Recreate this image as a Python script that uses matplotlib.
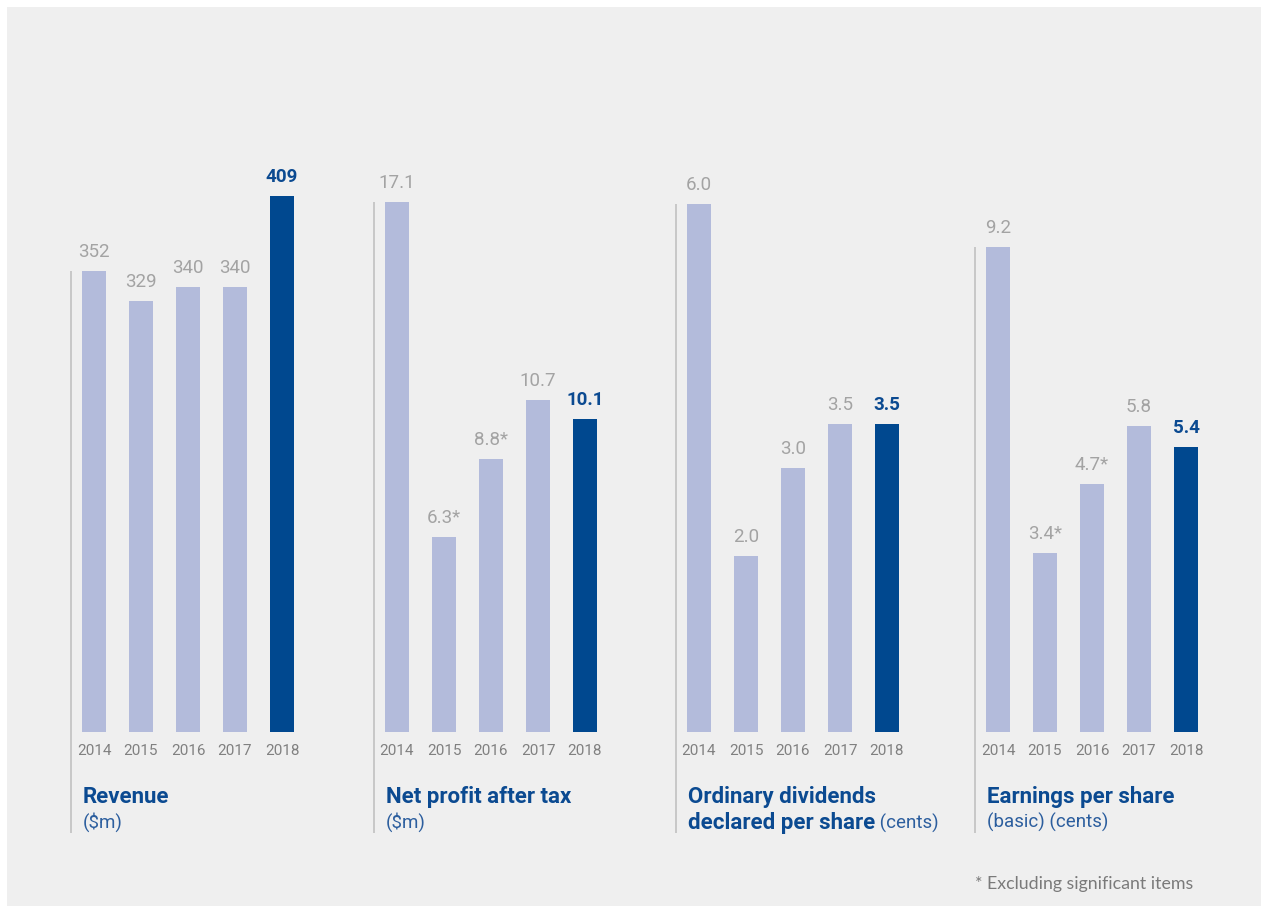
import matplotlib
matplotlib.use("Agg")
import matplotlib.pyplot as plt
from matplotlib.patches import Rectangle

W, H = 1261, 909

years = ["2014", "2015", "2016", "2017", "2018"]

revenue = [352, 329, 340, 340, 409]
revenue_labels = ["352", "329", "340", "340", "409"]

net_profit = [17.1, 6.3, 8.8, 10.7, 10.1]
net_profit_labels = ["17.1", "6.3*", "8.8*", "10.7", "10.1"]

dividends = [6.0, 2.0, 3.0, 3.5, 3.5]
dividends_labels = ["6.0", "2.0", "3.0", "3.5", "3.5"]

eps = [9.2, 3.4, 4.7, 5.8, 5.4]
eps_labels = ["9.2", "3.4*", "4.7*", "5.8", "5.4"]

panels = [
    (revenue, revenue_labels, ["Revenue"], "($m)", 482.4, 94),
    (net_profit, net_profit_labels, ["Net profit after tax"], "($m)", 20.39, 397),
    (dividends, dividends_labels, ["Ordinary dividends", "declared per share"], " (cents)", 7.18, 699),
    (eps, eps_labels, ["Earnings per share"], "(basic) (cents)", 11.98, 998),
]

LIGHT = "#b3bbdb"
DARK = "#00488f"
BLUE_TXT = "#0b4a91"
SUB_TXT = "#2c5e9e"
GREY_VAL = "#a3a3a3"
GREY_YR = "#808080"
LINE = "#c4c4c4"
BG = "#efefef"

FONT = "Roboto"


def fx(x):
    return x / W


def fy(y):
    return 1 - y / H


fig = plt.figure(figsize=(W / 100, H / 100), dpi=100, facecolor="white")
fig.patches.append(Rectangle((fx(7), fy(906)), 1, (906 - 7) / H,
                             transform=fig.transFigure, facecolor=BG,
                             edgecolor="none", zorder=-10))

base_y = 732
plot_h = 632
step = 47
renderer = fig.canvas.get_renderer()

for values, labels, title_lines, subtitle, ymax, c0 in panels:
    ax = fig.add_axes([fx(c0 - step / 2), fy(base_y), 5 * step / W, plot_h / H])
    ax.set_xlim(-0.5, 4.5)
    ax.set_ylim(0, ymax)
    ax.axis("off")
    ax.patch.set_alpha(0)

    xs = list(range(len(values)))
    colors = [LIGHT] * 4 + [DARK]
    ax.bar(xs, values, width=24 / step, color=colors)

    for i, (v, lab) in enumerate(zip(values, labels)):
        last = i == len(values) - 1
        ax.annotate(lab, (i, v), xytext=(0, 10), textcoords="offset points",
                    ha="center", va="baseline", fontsize=13.5, family=FONT,
                    color=BLUE_TXT if last else GREY_VAL,
                    fontweight="bold" if last else "normal")
        ax.annotate(years[i], (i, 0), xytext=(0, -16.5), textcoords="offset points",
                    ha="center", va="baseline", fontsize=11, family=FONT,
                    color=GREY_YR)

    # thin rule on the left of each panel
    y_bottom = -(833 - base_y) / plot_h * ymax
    ax.plot([-0.5, -0.5], [y_bottom, values[0]], color=LINE, lw=1.3,
            clip_on=False, solid_capstyle="butt")

    tx = fx(c0 - 11)
    t = None
    for k, line in enumerate(title_lines):
        t = fig.text(tx, fy(803 + 26 * k), line, fontsize=16, fontweight="bold",
                     family=FONT, color=BLUE_TXT, va="baseline")
    if len(title_lines) > 1:
        bb = t.get_window_extent(renderer=renderer)
        fig.text(bb.x1 / W, fy(829), subtitle, fontsize=13.5, family=FONT,
                 color=SUB_TXT, va="baseline")
    else:
        fig.text(tx, fy(828), subtitle, fontsize=13.5, family=FONT,
                 color=SUB_TXT, va="baseline")

fig.text(fx(1193), fy(889), "* Excluding significant items", fontsize=12.8,
         family="Lato", color="#7a7a7a", ha="right", va="baseline")

fig.savefig("out.png", dpi=100, facecolor="white")
